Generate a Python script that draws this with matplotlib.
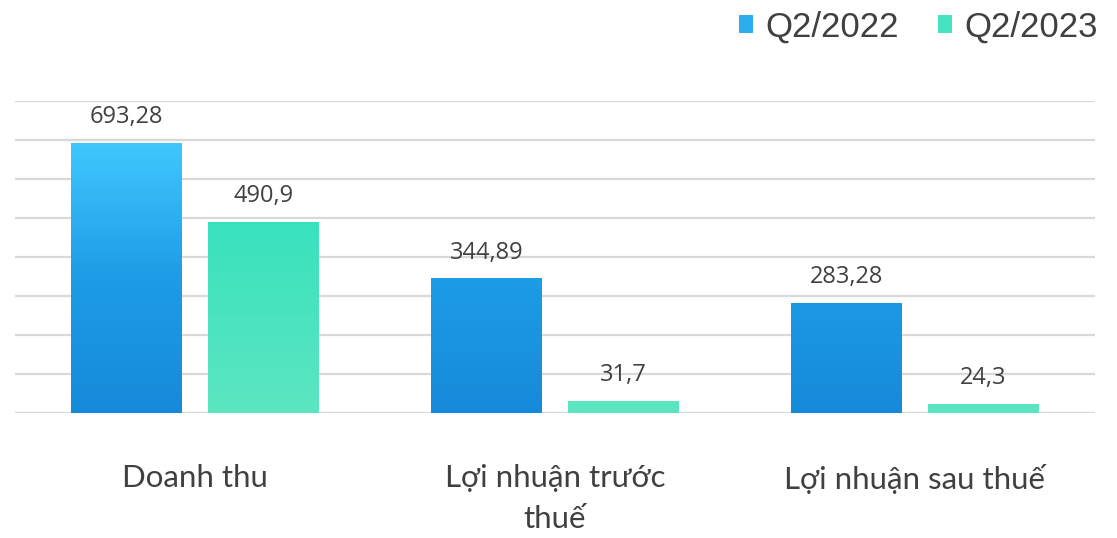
import numpy as np
import matplotlib
matplotlib.use("Agg")
import matplotlib.pyplot as plt
from matplotlib.colors import LinearSegmentedColormap, Normalize
from matplotlib.patches import Rectangle

categories = ["Doanh thu", "Lợi nhuận trước\nthuế", "Lợi nhuận sau thuế"]
series_names = ["Q2/2022", "Q2/2023"]
q2_2022 = [693.28, 344.89, 283.28]
q2_2023 = [490.9, 31.7, 24.3]
labels_2022 = ["693,28", "344,89", "283,28"]
labels_2023 = ["490,9", "31,7", "24,3"]

W, H = 1117, 538
fig = plt.figure(figsize=(W / 100, H / 100), dpi=100)
ax = fig.add_axes([15 / W, (H - 413) / H, 1080 / W, 312 / H])

x = np.arange(len(categories))
bw = 0.308
off = 0.19

cmap_blue = LinearSegmentedColormap.from_list("b", ["#168ADA", "#1E9CE6", "#40C8FE"])
cmap_green = LinearSegmentedColormap.from_list("g", ["#5BE6C1", "#38E2BD"])
norm_b = Normalize(0, 700)
norm_g = Normalize(0, 500)

ax.set_xlim(-0.5, len(categories) - 0.5)
ax.set_ylim(0, 800)
ax.set_yticks(np.arange(0, 801, 100))
ax.grid(axis="y", color="#d9d9d9", linewidth=1.6, zorder=0)
ax.set_axisbelow(True)

def grad_bars(xs, vals, cmap, norm):
    bars = ax.bar(xs, vals, width=bw, color="none", edgecolor="none", zorder=2)
    for b in bars:
        x0 = b.get_x()
        x1 = x0 + b.get_width()
        h = b.get_height()
        yy = np.linspace(0, h, 200).reshape(-1, 1)
        im = ax.imshow(yy, extent=[x0, x1, 0, h], origin="lower", cmap=cmap,
                       norm=norm, aspect="auto", zorder=2, interpolation="bilinear")
        im.set_clip_path(b)
    return bars

b1 = grad_bars(x - off, q2_2022, cmap_blue, norm_b)
b2 = grad_bars(x + off, q2_2023, cmap_green, norm_g)
ax.set_xlim(-0.5, len(categories) - 0.5)
ax.set_ylim(0, 800)

for bars, labs in ((b1, labels_2022), (b2, labels_2023)):
    for b, t in zip(bars, labs):
        ax.annotate(t, (b.get_x() + b.get_width() / 2, b.get_height()),
                    xytext=(0, 10), textcoords="offset points", ha="center",
                    va="bottom", fontsize=17, color="#404040", family="Open Sans")

ax.set_xticks(x)
ax.set_xticklabels(categories, fontsize=22.5, color="#404040", family="Lato",
                   linespacing=1.55, va="top")
ax.tick_params(axis="x", length=0, pad=37)
ax.tick_params(axis="y", length=0, labelleft=False)
for s in ax.spines.values():
    s.set_visible(False)

handles = [Rectangle((0, 0), 1, 1, facecolor="#2AAEF0"),
           Rectangle((0, 0), 1, 1, facecolor="#45E3BF")]
fig.legend(handles, series_names, loc="center right",
           bbox_to_anchor=(1098 / W, 1 - 27 / H), ncol=2, frameon=False,
           handlelength=0.4, handleheight=0.4, handletextpad=0.35,
           columnspacing=1.15, borderpad=0, borderaxespad=0,
           labelcolor="#404040", prop={"family": "Liberation Sans", "size": 25})

fig.savefig("out.png", dpi=100, facecolor="white")
